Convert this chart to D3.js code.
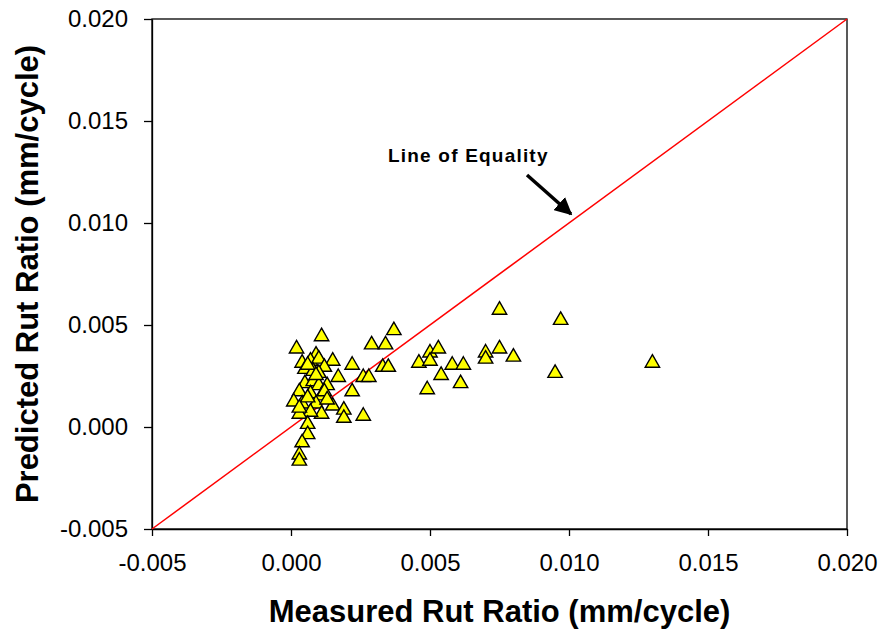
<!DOCTYPE html>
<html>
<head>
<meta charset="utf-8">
<script src="https://cdn.jsdelivr.net/npm/d3@7"></script>
<style>
  body { margin: 0; background: #fff; }
  text { font-family: Arial, "Liberation Sans", sans-serif; }
  .axis path, .axis line { stroke: #000; stroke-width: 1.3; }
  .axis text { font-size: 24px; fill: #000; }
</style>
</head>
<body>
<div id="chart"></div>
<script>
// Measured vs predicted rut ratio (mm/cycle)
var measured = [
  0.0002, 0.0011, 0.0009, 0.0004, 0.0007, 0.0010, 0.0015, 0.0012, 0.0005, 0.0008,
  0.0010, 0.0017, 0.0005, 0.0008, 0.0010, 0.0013, 0.0003, 0.0007, 0.0011, 0.0001,
  0.0004, 0.0009, 0.0015, 0.0011, 0.0007, 0.0003, 0.0019, 0.0019, 0.0026, 0.0006,
  0.0006, 0.0004, 0.0003, 0.0003, 0.0022, 0.0022, 0.0029, 0.0034, 0.0037, 0.0033,
  0.0035, 0.0026, 0.0028, 0.0006, 0.0009, 0.0012, 0.0006, 0.0013, 0.0003,
  0.0046, 0.0050, 0.0053, 0.0050, 0.0058, 0.0062, 0.0054, 0.0049, 0.0061, 0.0070,
  0.0070, 0.0075, 0.0075, 0.0080, 0.0097, 0.0095, 0.0130
];
var predicted = [
  0.0039, 0.0045, 0.0036, 0.0032, 0.0033, 0.0034, 0.0033, 0.0030, 0.0029, 0.0028,
  0.0027, 0.0025, 0.0022, 0.0023, 0.0021, 0.0021, 0.0018, 0.0017, 0.0016, 0.0013,
  0.0012, 0.0012, 0.0011, 0.0007, 0.0008, 0.0007, 0.0009, 0.0005, 0.0006, 0.0002,
  -0.0003, -0.0007, -0.0013, -0.0016, 0.0018, 0.0031, 0.0041, 0.0041, 0.0048, 0.0030,
  0.0030, 0.0025, 0.0025, 0.0031, 0.0026, 0.0018, 0.0015, 0.0014, 0.0010,
  0.0032, 0.0037, 0.0039, 0.0033, 0.0031, 0.0031, 0.0026, 0.0019, 0.0022, 0.0037,
  0.0034, 0.0039, 0.0058, 0.0035, 0.0053, 0.0027, 0.0032
];
var axisTicks = [-0.005, 0.000, 0.005, 0.010, 0.015, 0.020];
var equalityLine = [-0.005, 0.020];

var svgWidth = 884;
var svgHeight = 634;

var margin = { top: 19, right: 37, bottom: 105, left: 152 };
var width = svgWidth - margin.left - margin.right;
var height = svgHeight - margin.top - margin.bottom;

var svg = d3.select("#chart").append("svg")
  .attr("width", svgWidth)
  .attr("height", svgHeight);

var chartGroup = svg.append("g")
  .attr("transform", `translate(${margin.left}, ${margin.top})`);

var xScale = d3.scaleLinear().domain([-0.005, 0.020]).range([0, width]);
var yScale = d3.scaleLinear().domain([-0.005, 0.020]).range([height, 0]);

// Plot frame
chartGroup.append("rect")
  .attr("x", 0).attr("y", 0)
  .attr("width", width).attr("height", height)
  .attr("fill", "none")
  .attr("stroke", "#000")
  .attr("stroke-width", 1.3);

// Axes
chartGroup.append("g")
  .attr("class", "axis")
  .attr("transform", `translate(0, ${height})`)
  .call(d3.axisBottom(xScale).tickValues(axisTicks).tickSize(7).tickPadding(18).tickSizeOuter(0))
  .selectAll("text").text(d => d.toFixed(3));

chartGroup.append("g")
  .attr("class", "axis")
  .call(d3.axisLeft(yScale).tickValues(axisTicks).tickSize(8).tickPadding(16).tickSizeOuter(0))
  .selectAll("text").text(d => d.toFixed(3));

// Line of equality
chartGroup.append("line")
  .attr("x1", xScale(equalityLine[0]))
  .attr("y1", yScale(equalityLine[0]))
  .attr("x2", xScale(equalityLine[1]))
  .attr("y2", yScale(equalityLine[1]))
  .attr("stroke", "#ff0000")
  .attr("stroke-width", 1.5);

// Triangle markers
var tri = "M0,-7L7.2,5.5L-7.2,5.5Z";
chartGroup.selectAll(".pt")
  .data(measured.map((m, i) => ({ x: m, y: predicted[i] })))
  .enter()
  .append("path")
  .attr("class", "pt")
  .attr("d", tri)
  .attr("transform", d => `translate(${xScale(d.x)}, ${yScale(d.y)})`)
  .attr("fill", "#ffff00")
  .attr("stroke", "#000")
  .attr("stroke-width", 1.4);

// Annotation
svg.append("defs").append("marker")
  .attr("id", "arrow")
  .attr("viewBox", "0 0 10 10")
  .attr("refX", 9).attr("refY", 5)
  .attr("markerWidth", 5).attr("markerHeight", 5)
  .attr("orient", "auto")
  .append("path")
  .attr("d", "M0,0L10,5L0,10Z")
  .attr("fill", "#000");

svg.append("text")
  .attr("x", 388)
  .attr("y", 162)
  .attr("font-size", "19px")
  .attr("font-weight", "bold")
  .attr("letter-spacing", "1.2px")
  .text("Line of Equality");

svg.append("line")
  .attr("x1", 527).attr("y1", 175)
  .attr("x2", 571).attr("y2", 214)
  .attr("stroke", "#000")
  .attr("stroke-width", 3.5)
  .attr("marker-end", "url(#arrow)");

// Axis titles
svg.append("text")
  .attr("x", margin.left + width / 2)
  .attr("y", 622)
  .attr("text-anchor", "middle")
  .attr("font-size", "31px")
  .attr("font-weight", "bold")
  .text("Measured Rut Ratio (mm/cycle)");

svg.append("text")
  .attr("transform", `translate(38, ${margin.top + height / 2}) rotate(-90)`)
  .attr("text-anchor", "middle")
  .attr("font-size", "31px")
  .attr("font-weight", "bold")
  .text("Predicted Rut Ratio (mm/cycle)");
</script>
</body>
</html>
